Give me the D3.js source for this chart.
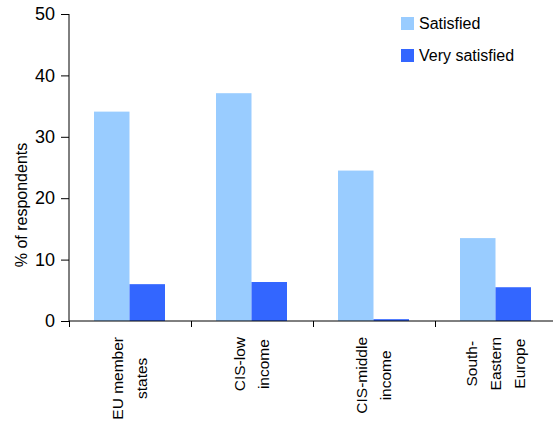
<!DOCTYPE html>
<html>
<head>
<meta charset="utf-8">
<script src="https://cdn.jsdelivr.net/npm/d3@7"></script>
<style>
  html, body { margin: 0; padding: 0; background: #fff; }
  svg { display: block; }
  text { font-family: "Liberation Sans", Arial, sans-serif; fill: #000; }
</style>
</head>
<body>
<svg id="chart" width="553" height="423"></svg>
<script>
const categories = [["EU member", "states"], ["CIS-low", "income"], ["CIS-middle", "income"], ["South-", "Eastern", "Europe"]];
const seriesNames = ["Satisfied", "Very satisfied"];
const satisfied = [34.1, 37.1, 24.5, 13.5];
const verySatisfied = [6.0, 6.35, 0.3, 5.5];
const yTicks = [0, 10, 20, 30, 40, 50];
const colors = ["#99CCFF", "#3366FF"];

const svg = d3.select("#chart");
const catKeys = categories.map((c, i) => i);
const x = d3.scaleBand().domain(catKeys).range([69, 557]).padding(0);
const xSub = d3.scaleBand().domain(seriesNames).range([25, 96]).padding(0);
const y = d3.scaleLinear().domain([0, 50]).range([321, 14]);

const data = catKeys.map(i => ({ i, values: [satisfied[i], verySatisfied[i]] }));

// bars
const g = svg.append("g");
data.forEach(d => {
  d.values.forEach((v, k) => {
    g.append("rect")
      .attr("x", x(d.i) + xSub(seriesNames[k]))
      .attr("y", y(v))
      .attr("width", xSub.bandwidth())
      .attr("height", y(0) - y(v))
      .attr("fill", colors[k]);
  });
});

// y axis
const yAxis = d3.axisLeft(y).tickValues(yTicks).tickSize(8).tickPadding(6).tickFormat(d3.format("d"));
const yg = svg.append("g").attr("transform", "translate(69,0)").call(yAxis);
yg.select(".domain").attr("stroke", "#000").attr("d", "M0,14V321");
yg.selectAll(".tick line").attr("stroke", "#000");
yg.selectAll(".tick text").attr("font-size", 18).attr("font-family", "Liberation Sans, Arial, sans-serif").attr("fill", "#000");

// x axis line and ticks at band boundaries
svg.append("line").attr("x1", 69).attr("x2", 553).attr("y1", y(0)).attr("y2", y(0)).attr("stroke", "#000");
catKeys.forEach(i => {
  svg.append("line").attr("x1", x(i) + 0.5).attr("x2", x(i) + 0.5).attr("y1", y(0)).attr("y2", y(0) + 6).attr("stroke", "#000");
});

// category labels (rotated, multi-line, block top-aligned, lines centered)
const lineGap = 24;
catKeys.forEach(i => {
  const lines = categories[i];
  const cx = x(i) + x.bandwidth() / 2;
  const n = lines.length;
  const lg = svg.append("g");
  const texts = lines.map((ln, j) => lg.append("text")
    .attr("font-size", 15.5)
    .attr("text-anchor", "middle")
    .text(ln));
  const maxW = d3.max(texts, t => t.node().getComputedTextLength());
  const cy = 337 + maxW / 2;
  texts.forEach((t, j) => {
    const bx = cx + (j - (n - 1) / 2) * lineGap + 5;
    t.attr("transform", `translate(${bx},${cy}) rotate(-90)`);
  });
});

// y axis title
svg.append("text")
  .attr("transform", "translate(27,205) rotate(-90)")
  .attr("text-anchor", "middle")
  .attr("font-size", 16)
  .text("% of respondents");

// legend
const legendY = [17, 49];
seriesNames.forEach((s, k) => {
  svg.append("rect").attr("x", 401).attr("y", legendY[k]).attr("width", 13).attr("height", 13).attr("fill", colors[k]);
  svg.append("text").attr("x", 419).attr("y", legendY[k] + 12).attr("font-size", 16).text(s);
});
</script>
</body>
</html>
